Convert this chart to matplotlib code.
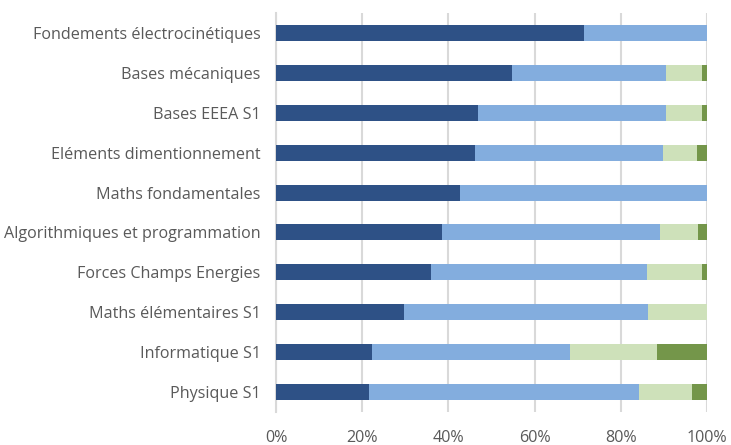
import numpy as np
import matplotlib
matplotlib.use('Agg')
import matplotlib.pyplot as plt
from matplotlib.ticker import PercentFormatter

# Données (parts en %)
categories = ['Fondements électrocinétiques', 'Bases mécaniques', 'Bases EEEA S1',
              'Eléments dimentionnement', 'Maths fondamentales',
              'Algorithmiques et programmation', 'Forces Champs Energies',
              'Maths élémentaires S1', 'Informatique S1', 'Physique S1']
serie_1 = [71.4, 54.7, 46.8, 46.1, 42.7, 38.4, 35.9, 29.7, 22.2, 21.5]
serie_2 = [28.6, 35.8, 43.6, 43.7, 57.3, 50.7, 50.2, 56.5, 46.0, 62.8]
serie_3 = [0.0, 8.4, 8.5, 7.8, 0.0, 8.7, 12.8, 13.8, 20.2, 12.3]
serie_4 = [0.0, 1.1, 1.1, 2.4, 0.0, 2.2, 1.1, 0.0, 11.6, 3.4]

couleurs = ['#2E5186', '#83ADDE', '#CEE1BA', '#74964A']
series = [serie_1, serie_2, serie_3, serie_4]

plt.rcParams['font.family'] = ['Open Sans', 'DejaVu Sans']

fig = plt.figure(figsize=(7.31, 4.45), dpi=100)
ax = fig.add_axes([0.3776, 0.0742, 0.5896, 0.8966])

y = np.arange(len(categories))
gauche = np.zeros(len(categories))
for vals, c in zip(series, couleurs):
    vals = np.array(vals)
    ax.barh(y, vals, left=gauche, height=0.4, color=c, zorder=3)
    gauche += vals

ax.set_xlim(0, 100)
ax.set_ylim(-0.5, len(categories) - 0.5)
ax.invert_yaxis()
ax.set_yticks(y)
ax.set_yticklabels(categories)
ax.set_xticks(np.arange(0, 101, 20))
ax.xaxis.set_major_formatter(PercentFormatter(decimals=0))

ax.grid(axis='x', color='#D9D9D9', linewidth=1.5, zorder=0)
for s in ['top', 'right', 'bottom']:
    ax.spines[s].set_visible(False)
ax.spines['left'].set_color('#D9D9D9')
ax.spines['left'].set_linewidth(1.5)
ax.tick_params(axis='both', length=0, labelsize=11.6, colors='#595959')
ax.tick_params(axis='x', pad=13)
ax.tick_params(axis='y', pad=11)

fig.savefig('out.png', dpi=100)
